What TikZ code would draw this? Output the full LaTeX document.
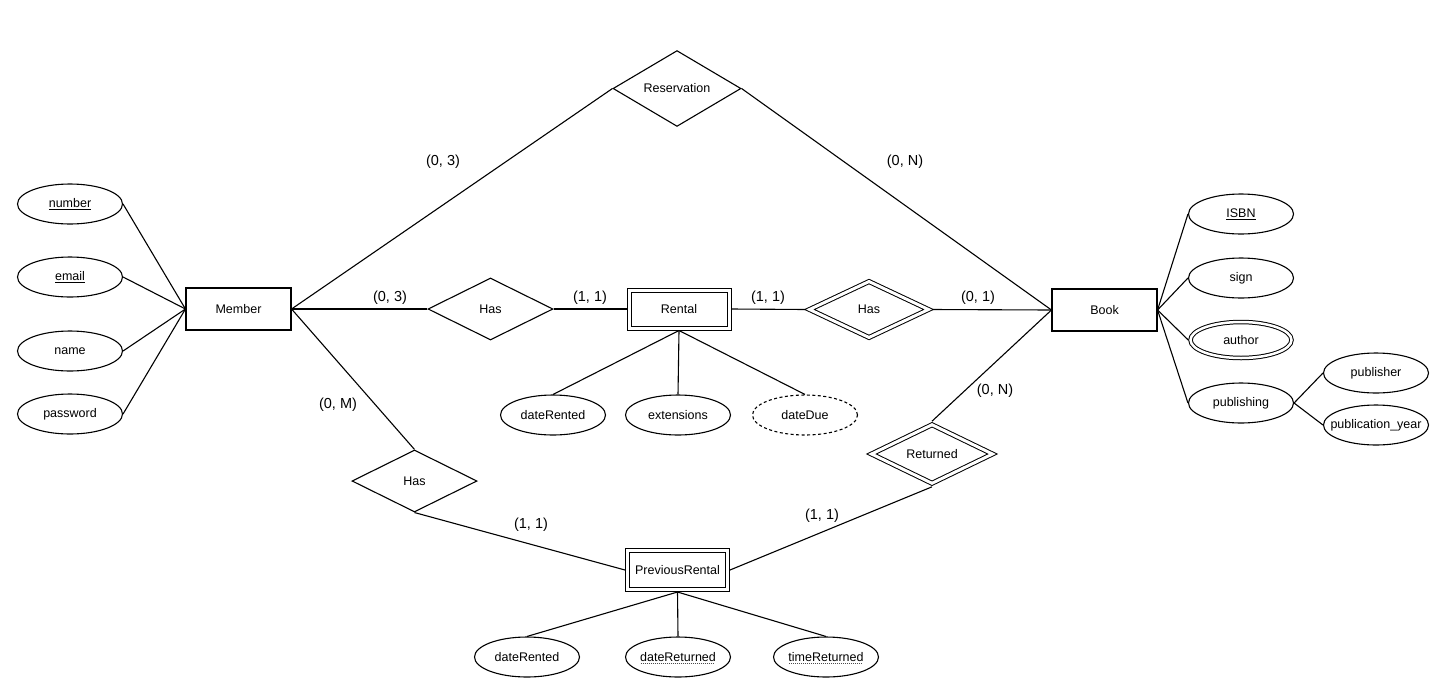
\documentclass[tikz,border=0pt]{standalone}
\usepackage{fontspec}
\setmainfont{Liberation Sans}
\usetikzlibrary{shapes.geometric}
% zero-width box so long attribute names do not stretch their ellipse
\newcommand{\zw}[1]{\makebox[0pt]{#1}}
% dotted underline for partial keys (does not change the text's box)
\newsavebox{\dotulbox}
\newcommand{\dotul}[1]{\sbox{\dotulbox}{#1}\leavevmode\rlap{\raisebox{-2.8pt}[0pt][0pt]{\color{black!70}\hbox to\wd\dotulbox{\leaders\hbox to 2pt{\hss\vrule height0.8pt width1pt\hss}\hfill}}}\usebox{\dotulbox}}
\begin{document}
\begin{tikzpicture}[x=1pt,y=-1pt,
  every node/.style={font=\fontsize{12.5}{14}\selectfont},
  conn/.style={line width=1.1pt},
  entity/.style={draw, rectangle, line width=1.1pt, minimum width=105pt, minimum height=42pt, inner sep=0pt},
  weakentity/.style={draw, rectangle, line width=1pt, double, double distance=3pt, outer sep=2.5pt, inner sep=0pt},
  attr/.style={draw, ellipse, line width=1.1pt, minimum width=105pt, minimum height=40pt, inner sep=0pt},
  multiattr/.style={draw, ellipse, line width=1pt, double, double distance=2.5pt, outer sep=2.25pt, minimum width=101pt, minimum height=36pt, inner sep=0pt},
  derivedattr/.style={attr, dashed, dash pattern=on 3pt off 2.5pt},
  rel/.style={draw, diamond, line width=1.1pt, inner sep=0pt},
  weakrel/.style={draw, diamond, line width=1pt, double, double distance=3pt, outer sep=2.5pt, inner sep=0pt},
  card/.style={font=\fontsize{14.5}{16}\selectfont}
]
\useasboundingbox (0,0) rectangle (1439,694);

% entities
\node[entity] (member) at (238.5,309) {Member};
\node[entity] (book) at (1104.5,310) {Book};
\node[weakentity, minimum width=100pt, minimum height=38pt] (rental) at (679,309) {Rental};
\node[weakentity, minimum width=100pt, minimum height=39pt] (prev) at (677.5,570) {PreviousRental};

% relationships
\node[rel, minimum width=128pt, minimum height=63pt] (reservation) at (677,88.5) {Reservation};
\node[rel, minimum width=125pt, minimum height=62pt] (hasrent) at (490.5,309) {Has};
\node[weakrel, minimum width=121pt, minimum height=58pt] (hasbook) at (869,309.5) {Has};
\node[rel, minimum width=125pt, minimum height=62pt] (hasprev) at (414.5,481) {Has};
\node[weakrel, minimum width=123pt, minimum height=59pt] (returned) at (932,454) {Returned};

% member attributes
\node[attr] (number) at (70,204) {\zw{\underline{number}}};
\node[attr] (email) at (70,277) {\zw{\underline{email}}};
\node[attr] (name) at (70,351) {\zw{name}};
\node[attr] (password) at (70,414) {\zw{password}};

% book attributes
\node[attr] (isbn) at (1241,214) {\zw{\underline{ISBN}}};
\node[attr] (sign) at (1241,278) {\zw{sign}};
\node[multiattr] (author) at (1241,340) {\zw{author}};
\node[attr] (publishing) at (1241,403) {\zw{publishing}};
\node[attr] (publisher) at (1376,373) {\zw{publisher}};
\node[attr] (pubyear) at (1376,425) {\zw{publication\_year}};

% rental attributes
\node[attr] (rented) at (553,415) {\zw{dateRented}};
\node[attr] (extensions) at (678,415) {\zw{extensions}};
\node[derivedattr] (due) at (805,415) {\zw{dateDue}};

% previous rental attributes
\node[attr] (prented) at (527,657) {\zw{dateRented}};
\node[attr] (returneddate) at (678,657) {\zw{\dotul{dateReturned}}};
\node[attr] (returnedtime) at (826,657) {\zw{\dotul{timeReturned}}};

% attribute links
\foreach \a in {number,email,name,password}
  \draw[conn] (\a.east) -- (member.west);
\foreach \a in {isbn,sign,author,publishing}
  \draw[conn] (book.east) -- (\a.west);
\draw[conn] (publishing.east) -- (publisher.west);
\draw[conn] (publishing.east) -- (pubyear.west);
\foreach \a in {rented,extensions,due}
  \draw[conn] (rental.south) -- (\a.north);
\foreach \a in {prented,returneddate,returnedtime}
  \draw[conn] (prev.south) -- (\a.north);

% relationship links
\draw[conn] (member.east) -- (reservation.west);
\draw[conn] (reservation.east) -- (book.west);
\draw[conn] (member.east) -- (hasrent.west);
\draw[conn] (hasrent.east) -- (rental.west);
\draw[conn] (rental.east) -- (hasbook.west);
\draw[conn] (hasbook.east) -- (book.west);
\draw[conn] (member.east) -- (hasprev.north);
\draw[conn] (hasprev.south) -- (prev.west);
\draw[conn] (book.west) -- (returned.north);
\draw[conn] (returned.south) -- (prev.east);

% cardinalities
\node[card] (c1) at (443,162) {(0, 3)};
\node[card] (c2) at (905,162) {(0, N)};
\node[card] (c3) at (390,298) {(0, 3)};
\node[card] (c4) at (590,298) {(1, 1)};
\node[card] (c5) at (768,298) {(1, 1)};
\node[card] (c6) at (978,298) {(0, 1)};
\node[card] (c7) at (338,405) {(0, M)};
\node[card] (c8) at (531,525) {(1, 1)};
\node[card] (c9) at (995,391) {(0, N)};
\node[card] (c10) at (822,516) {(1, 1)};
\end{tikzpicture}
\end{document}
